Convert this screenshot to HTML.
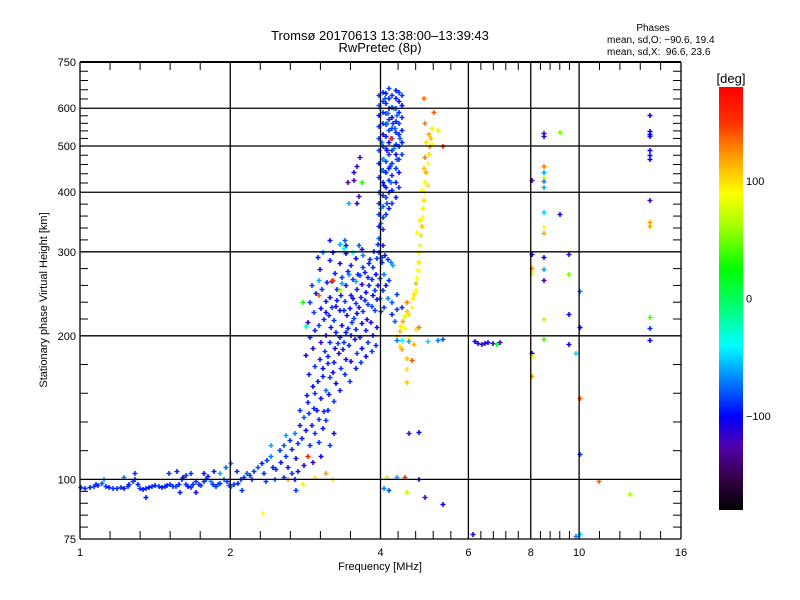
<!DOCTYPE html>
<html><head><meta charset="utf-8">
<style>
html,body{margin:0;padding:0;background:#fff;}
svg{display:block;font-family:"Liberation Sans",sans-serif;}
</style></head>
<body>
<svg id="chart" width="800" height="600" viewBox="0 0 800 600">
<defs>
<linearGradient id="cbgrad" x1="0" y1="1" x2="0" y2="0">
<stop offset="0" stop-color="#000000"/>
<stop offset="0.083" stop-color="#3a0050"/>
<stop offset="0.153" stop-color="#5000b0"/>
<stop offset="0.222" stop-color="#0000ff"/>
<stop offset="0.306" stop-color="#0080ff"/>
<stop offset="0.389" stop-color="#00ffff"/>
<stop offset="0.472" stop-color="#00ff80"/>
<stop offset="0.569" stop-color="#00ff00"/>
<stop offset="0.667" stop-color="#a0ff00"/>
<stop offset="0.75" stop-color="#ffff00"/>
<stop offset="0.833" stop-color="#ffa000"/>
<stop offset="0.917" stop-color="#ff3000"/>
<stop offset="1" stop-color="#ff0000"/>
</linearGradient>
</defs>
<text x="380" y="40" font-size="13" text-anchor="middle">Tromsø 20170613 13:38:00–13:39:43</text>
<text x="380" y="52" font-size="13" text-anchor="middle">RwPretec (8p)</text>
<text x="653" y="31" font-size="10" text-anchor="middle">Phases</text>
<text x="607" y="43" font-size="10">mean, sd,O: −90.6, 19.4</text>
<text x="607" y="55" font-size="10" xml:space="preserve">mean, sd,X:  96.6, 23.6</text>
<g id="marks"></g>
<g id="axes"></g>
<text x="380" y="570" font-size="11" text-anchor="middle">Frequency [MHz]</text>
<text transform="translate(47,300) rotate(-90)" font-size="11" text-anchor="middle">Stationary phase Virtual Height [km]</text>
<rect x="719" y="87" width="24" height="423" fill="url(#cbgrad)"/>
<text x="731" y="83" font-size="13" text-anchor="middle">[deg]</text>
<g id="cbticks"></g>
</svg>
<script>
const xMajor=[1,2,4,6,8,10,16];
const xLabels=["1","2","4","6","8","10","16"];
const yMajor=[75,100,200,300,400,500,600,750];
const yLabels=["75","100","200","300","400","500","600","750"];
const cbValues=[100,0,-100];
const cbLabels=["100","0","−100"];

const eLayerPts=[[1.00,96.5,-90],[1.02,96,-90],[1.04,96.5,-95],[1.06,97,-88],[1.07,98,-90],[1.08,97.5,-92],[1.10,98.5,-80],[1.12,97,-90],[1.14,96.5,-95],[1.16,96,-90],[1.18,96,-92],[1.20,96.5,-90],[1.22,96,-95],[1.24,97,-90],[1.25,98,-95],[1.27,99,-90],[1.28,100,-92],[1.30,98,-95],[1.31,96,-90],[1.33,95.5,-95],[1.35,96,-90],[1.37,96.5,-95],[1.39,97,-90],[1.41,97.5,-92],[1.43,97,-90],[1.45,96.5,-95],[1.47,97,-90],[1.49,97.5,-95],[1.51,98,-90],[1.53,97,-90],[1.55,97,-88],[1.57,98,-92],[1.59,100,-90],[1.60,101,-105],[1.62,98,-90],[1.64,97,-95],[1.66,96.5,-90],[1.68,98,-92],[1.70,99,-90],[1.72,98,-90],[1.74,97.5,-88],[1.76,99,-92],[1.78,100,-90],[1.80,101.5,-95],[1.82,99,-70],[1.84,98,-90],[1.86,97,-92],[1.88,98,-80],[1.90,98.5,-88],[1.93,100,-70],[1.96,99,-90],[1.98,97.5,-75],[2.00,97,-80],[2.03,98,-90],[2.06,98.5,-95],[2.09,100,-90],[2.12,101,-88],[2.15,103,-80],[2.18,102,-90],[2.20,100,-90],
[1.11,100,-60],[1.22,101,-70],[1.28,103,-90],[1.35,92,-95],[1.50,103,-90],[1.56,104,-95],[1.58,94,-95],[1.62,102,-90],[1.66,103,-90],[1.76,103,-105],[1.85,104,-95],[1.95,106,-75],[2.00,108,-70],[2.05,104,-90],[1.90,103,-60],[2.10,95,-90],[1.70,94,-105]];

const risePts=[[2.22,104,-88],[2.26,106,-80],[2.3,108,-95],[2.33,103,-90],[2.36,110,-88],[2.4,112,-70],[2.42,106,-95],[2.46,105,-90],[2.5,115,-88],[2.52,109,-105],[2.55,118,-80],[2.58,112,-88],[2.6,106,-95],[2.62,121,-90],[2.65,116,-92],[2.68,125,-70],[2.7,111,-105],[2.72,119,-88],[2.75,130,-95],[2.77,122,-95],[2.8,135,-80],[2.82,127,-105],[2.86,138,-88],[2.88,118,-90],[2.9,130,-95],[2.94,125,-88],[2.97,140,-105],[3.0,120,-90],[3.05,128,-95],[3.1,133,-88],[2.45,100,-80],[2.55,101,-88],[2.65,103,-90],[2.72,104,-95],[2.58,124,-60],[2.75,140,-88],[2.85,145,-95],[2.95,152,-90],[2.4,118,-60],[2.35,99,-88],[2.68,100,-100],[2.8,107,-110],[2.92,109,-115],[3.02,112,-100],[3.15,118,-88],[3.22,125,-105],[3.12,140,-95],
[2.32,85,90],[2.6,100,120],[2.78,98,80],[2.95,101,95],[3.1,103,120],[3.2,100,100],[2.85,112,160],[2.7,95,-88]];

const f1Pts=[[2.84,150,-95],[2.86,166,-95],[2.83,182,-105],[2.87,199,-92],[2.85,214,-115],[2.88,236,-88],
[2.93,141,-90],[2.91,157,-100],[2.94,173,-88],[2.92,189,-110],[2.95,206,-92],[2.93,224,-85],[2.96,246,-95],
[3.0,134,-88],[3.02,148,-105],[2.99,161,-95],[3.01,179,-95],[3.03,194,-115],[3.0,211,-88],[3.02,229,-100],[3.04,251,-90],[3.01,276,-105],
[3.07,139,-92],[3.09,154,-75],[3.06,171,-100],[3.08,186,-88],[3.1,201,-110],[3.07,217,-92],[3.09,237,-95],[3.11,259,-95],
[3.14,151,-105],[3.16,164,-88],[3.13,181,-95],[3.15,194,-90],[3.17,209,-105],[3.14,221,-92],[3.16,241,-100],[3.18,261,-88],[3.15,289,-95],
[3.22,146,-88],[3.24,159,-100],[3.21,176,-95],[3.23,189,-105],[3.25,204,-95],[3.22,216,-88],[3.24,231,-110],[3.26,251,-92],[3.23,271,-95],
[3.3,154,-95],[3.32,171,-88],[3.29,184,-105],[3.31,199,-92],[3.33,211,-100],[3.3,227,-95],[3.32,244,-95],[3.34,266,-88],[3.31,284,-105],
[3.38,166,-92],[3.4,179,-105],[3.37,194,-88],[3.39,204,-95],[3.41,221,-110],[3.38,237,-88],[3.4,256,-95],[3.42,274,-95],[3.39,299,-100],
[3.46,161,-88],[3.48,177,-100],[3.45,191,-92],[3.47,201,-105],[3.49,214,-88],[3.46,229,-95],[3.48,244,-110],[3.5,263,-88],[3.47,281,-95],
[3.55,171,-95],[3.57,184,-88],[3.54,197,-105],[3.56,207,-92],[3.58,223,-100],[3.55,234,-88],[3.57,251,-95],[3.59,269,-95],[3.56,291,-105],
[3.64,176,-88],[3.66,189,-100],[3.63,199,-92],[3.65,213,-105],[3.67,225,-88],[3.64,241,-95],[3.66,257,-110],[3.68,279,-88],[3.65,304,-95],
[3.73,181,-100],[3.75,194,-88],[3.72,206,-95],[3.74,217,-110],[3.76,233,-88],[3.73,247,-100],[3.75,266,-92],[3.77,284,-95],
[3.82,186,-88],[3.84,201,-95],[3.81,214,-105],[3.83,231,-88],[3.85,244,-100],[3.82,263,-92],[3.84,279,-90],[3.86,301,-95],
[3.9,191,-92],[3.92,209,-105],[3.89,226,-88],[3.91,239,-95],[3.93,256,-95],[3.9,269,-100],[3.92,291,-88],[3.94,311,-92],
[3.05,165,-95],[3.12,175,-92],[3.2,168,-105],[3.27,193,-88],[3.35,188,-95],[3.43,208,-92],[3.52,218,-88],[3.6,230,-105],[3.7,238,-92],[3.78,255,-95],[3.88,250,-88],[3.5,240,-100],[3.36,226,-92],[3.26,238,-95],[3.18,230,-88],[3.1,224,-105],[3.62,268,-88],[3.7,272,-95],[3.8,290,-92],[3.45,270,-70],[3.33,258,-60],[3.55,260,-60],[3.68,295,-70],[3.6,310,-80],[3.4,310,-95],[3.2,300,-105],[3.0,262,-60],[2.9,255,-88],
[3.2,262,150],[3.0,244,140],[3.3,250,60],[2.78,236,30],[2.82,210,-20],[3.36,305,-40],[3.5,300,-30],
[3.63,474,-120],[3.58,455,-120],[3.53,440,-110],[3.52,425,-120],[3.43,420,-130],[3.65,420,30],[3.6,392,-120],[3.45,380,-60],[3.57,380,-110],[3.15,318,-95],[3.3,312,-60],[3.38,318,-80],[2.98,292,-95],[3.06,300,-70]];

const oColPts=[[3.96,300,-88],[3.96,320,-80],[3.96,340,-95],[3.96,360,-90],[3.96,380,-92],[3.96,400,-80],[3.96,430,-88],[3.96,460,-95],[3.96,490,-85],[3.96,520,-88],[3.96,550,-90],[3.96,580,-95],[3.96,610,-80],[3.96,640,-88],
[4.02,310,-95],[4.02,335,-90],[4.02,355,-88],[4.02,375,-80],[4.02,395,-92],[4.02,420,-95],[4.02,445,-95],[4.02,470,-80],[4.02,500,-88],[4.02,530,-105],[4.02,560,-90],[4.02,590,-88],[4.02,620,-85],[4.02,650,-92],
[4.08,360,-88],[4.08,390,-85],[4.08,410,-95],[4.08,440,-95],[4.08,465,-88],[4.08,495,-80],[4.08,525,-95],[4.08,555,-88],[4.08,585,-90],[4.08,615,-92],[4.08,645,-95],
[4.14,370,-95],[4.14,400,-88],[4.14,425,-90],[4.14,450,-92],[4.14,480,-88],[4.14,510,-100],[4.14,540,-85],[4.14,570,-88],[4.14,600,-95],[4.14,630,-95],
[4.2,380,-88],[4.2,405,-95],[4.2,435,-90],[4.2,460,-88],[4.2,490,-92],[4.2,520,-85],[4.2,545,-88],[4.2,575,-100],[4.2,605,-88],[4.2,640,-90],
[4.27,390,-95],[4.27,420,-95],[4.27,450,-88],[4.27,480,-105],[4.27,505,-88],[4.27,535,-90],[4.27,565,-92],[4.27,600,-88],[4.27,630,-95],[4.27,655,-95],
[4.33,410,-88],[4.33,440,-100],[4.33,470,-88],[4.33,500,-90],[4.33,530,-95],[4.33,560,-88],[4.33,590,-92],[4.33,620,-105],[4.33,650,-88],
[4.4,480,-88],[4.4,510,-95],[4.4,540,-95],[4.4,575,-88],[4.4,610,-100],[4.4,640,-88],
[3.99,345,-70],[4.05,470,-60],[4.11,560,-70],[4.18,520,150],[3.98,600,-60],[4.24,600,-70],[4.05,415,-105],[4.0,445,-70],[4.16,455,-88],[4.1,490,-110],[4.22,560,-88],[4.3,580,-75],[3.99,370,-60],[3.98,265,-88],[4.0,285,-95],[4.03,250,-90],[3.97,240,-80],[4.05,270,-70],[3.99,225,-88],
[4.0,292,-88],[4.06,295,-95],[4.12,290,-88],[4.18,285,-70],[4.22,282,-60],[4.04,230,-88],[4.12,240,-70],[4.2,235,-80],[4.08,255,-105],[4.15,262,-88],
[4.06,630,-80],[4.12,585,-75],[4.25,545,-80],[4.3,470,-85],[4.18,420,-75],[4.1,380,-85],[4.0,510,-75],[4.36,520,-80],[4.24,495,-70],[4.15,660,-85]];

const xTracePts=[[4.30,200,100],[4.35,205,110],[4.38,210,95],[4.42,215,120],[4.45,220,80],[4.5,225,110],[4.55,222,100],[4.6,230,90],[4.5,235,130],[4.62,240,95],[4.65,245,100],[4.68,250,85],[4.7,258,110],[4.72,265,90],[4.73,275,95],[4.75,285,100],[4.76,300,90],[4.78,310,85],[4.8,325,100],[4.82,340,110],[4.84,355,90],[4.85,370,95],[4.86,385,100],[4.88,400,90],[4.9,420,95],[4.92,440,120],[4.95,460,90],[4.97,480,100],[5.0,500,130],[5.02,520,110],[5.05,545,95],[4.9,560,130],[5.1,590,140],[4.86,630,135],[4.78,350,95],[4.82,405,90],[4.86,450,110],[4.92,510,100],[4.98,530,120],[5.05,505,90],[4.88,475,130],[4.95,415,100],[4.72,330,90],[5.3,500,150],[5.2,540,80],
[4.35,190,100],[4.4,188,120],[4.5,180,110],[4.6,178,140],[4.55,198,90],[4.7,207,100],[4.75,209,130],[4.65,192,115],[4.45,208,90],[4.4,230,-90],[4.3,228,-88],[4.25,215,-80],[4.2,222,-95],[4.3,245,-88]];

const sparsePts=[[4.4,196,-40],[4.3,196,-70],[4.55,195,-60],[4.95,195,-50],[5.2,196,-70],[5.3,197,-80],
[6.15,195,-100],[6.25,193,-110],[6.35,192,-120],[6.45,193,-115],[6.55,194,-100],[6.7,193,-130],[6.8,192,10],[6.9,194,-120],
[4.55,125,-120],[4.75,126,-100],[4.05,96,-70],[4.15,95,-80],[4.5,94,70],[4.9,92,-120],[5.3,89,-100],[6.1,77,-100],[9.8,76,-70],
[4.1,101,70],[4.3,101,-60],[4.45,101,150],[4.75,100,-110],[4.5,170,100],[4.5,160,110],
[8.45,533,-120],[8.45,525,-110],[8.45,453,130],[8.45,441,-60],[8.45,431,80],[8.45,422,-70],[8.45,410,-60],[8.45,364,-50],[8.45,338,90],[8.45,328,120],[8.45,292,-100],[8.45,276,-60],[8.45,262,-120],[8.45,217,70],[8.45,197,40],
[8.0,425,-120],[8.0,297,-100],[8.0,277,120],[8.0,271,80],[8.0,184,-100],[8.0,181,90],[8.0,165,120],
[9.12,535,50],[9.12,360,-110],[9.5,270,50],[9.5,222,-100],[9.5,192,-100],[9.5,297,-110],
[10.0,248,-70],[10.0,209,-100],[9.8,184,-50],[10.0,148,140],[10.0,113,-90],[10.0,77,-50],[10.9,99,140],[12.6,93,60],
[13.8,582,-100],[13.8,537,-100],[13.8,530,-100],[13.8,524,-100],[13.8,490,-100],[13.8,478,-100],[13.8,470,-100],[13.8,385,-120],[13.8,346,120],[13.8,340,120],[13.8,219,40],[13.8,208,-90],[13.8,196,-100]];

const X0=80,X1=681,Y0=62,Y1=539;
function xs(f){return X0+(X1-X0)*Math.log2(f)/4;}
function ys(h){return Y1-(Y1-Y0)*Math.log10(h/75);}
const cStops=[[-180,0,0,0],[-150,58,0,80],[-125,80,0,176],[-100,0,0,255],[-70,0,128,255],[-40,0,255,255],[-10,0,255,128],[25,0,255,0],[60,160,255,0],[90,255,255,0],[120,255,160,0],[150,255,48,0],[180,255,0,0]];
function pcolor(p){
  p=Math.max(-180,Math.min(180,p));
  for(let i=0;i<cStops.length-1;i++){
    const a=cStops[i],b=cStops[i+1];
    if(p>=a[0]&&p<=b[0]){const t=(p-a[0])/(b[0]-a[0]);
      return 'rgb('+Math.round(a[1]+t*(b[1]-a[1]))+','+Math.round(a[2]+t*(b[2]-a[2]))+','+Math.round(a[3]+t*(b[3]-a[3]))+')';}
  }
  return '#f00';
}
const NS='http://www.w3.org/2000/svg';
const marks=document.getElementById('marks');
const groups=[['e-layer',eLayerPts],['rise',risePts],['f1-cluster',f1Pts],['o-column',oColPts],['x-trace',xTracePts],['sparse',sparsePts]];
groups.forEach(([nm,pts])=>{
  pts.forEach(pt=>{
    const x=Math.round(xs(pt[0]))+0.5, y=Math.round(ys(pt[1]))+0.5;
    const el=document.createElementNS(NS,'path');
    el.setAttribute('d','M'+(x-2)+' '+y+'h5M'+(x+0.5)+' '+(y-2.5)+'v5');
    el.setAttribute('stroke',pcolor(pt[2]));
    el.setAttribute('stroke-width','1.5');
    
    
    marks.appendChild(el);
  });
});
const axes=document.getElementById('axes');
function line(x1,y1,x2,y2,w,name){
  const l=document.createElementNS(NS,'line');
  l.setAttribute('x1',x1);l.setAttribute('y1',y1);l.setAttribute('x2',x2);l.setAttribute('y2',y2);
  l.setAttribute('stroke','#000');l.setAttribute('stroke-width',w);
  
  
  axes.appendChild(l);
}
function text(x,y,s,anchor,name,size){
  const t=document.createElementNS(NS,'text');
  t.setAttribute('x',x);t.setAttribute('y',y);t.setAttribute('text-anchor',anchor);t.setAttribute('font-size',size||11);
  t.textContent=s;
  
  
  axes.appendChild(t);
}
xMajor.forEach((f,i)=>{
  const x=xs(f);
  if(i>0&&i<xMajor.length-1) line(x,Y0,x,Y1,1.3,'x-gridline');
  text(x,556,xLabels[i],'middle','x-tick-label');
  if(i<xMajor.length-1){
    const a=Math.log2(f),b=Math.log2(xMajor[i+1]);
    for(let k=1;k<5;k++){const xx=X0+(X1-X0)*(a+(b-a)*k/5)/4;
      line(xx,Y0,xx,Y0+8,1,'x-minor-tick-top');line(xx,Y1,xx,Y1-8,1,'x-minor-tick-bottom');}
  }
});
yMajor.forEach((h,i)=>{
  const y=ys(h);
  if(i>0&&i<yMajor.length-1) line(X0,y,X1,y,1.3,'y-gridline');
  text(76,y+4,yLabels[i],'end','y-tick-label');
  if(i<yMajor.length-1){
    const a=Math.log10(h/75),b=Math.log10(yMajor[i+1]/75);
    for(let k=1;k<5;k++){const yy=Y1-(Y1-Y0)*(a+(b-a)*k/5);
      line(X0,yy,X0+8,yy,1,'y-minor-tick-left');line(X1,yy,X1-8,yy,1,'y-minor-tick-right');}
  }
});
line(X0,Y0,X1,Y0,2,'plot-frame-top');
line(X0,Y1,X1,Y1,1.3,'plot-frame-bottom');
line(X0,Y0,X0,Y1,1.3,'plot-frame-left');
line(X1,Y0,X1,Y1,1.3,'plot-frame-right');
const cb=document.getElementById('cbticks');
cbValues.forEach((v,i)=>{
  const y=87+(180-v)/360*423;
  const t=document.createElementNS(NS,'text');
  t.setAttribute('x',746);t.setAttribute('y',y+4);t.setAttribute('font-size',11);
  t.textContent=cbLabels[i];
  
  
  cb.appendChild(t);
});
</script>
</body></html>
